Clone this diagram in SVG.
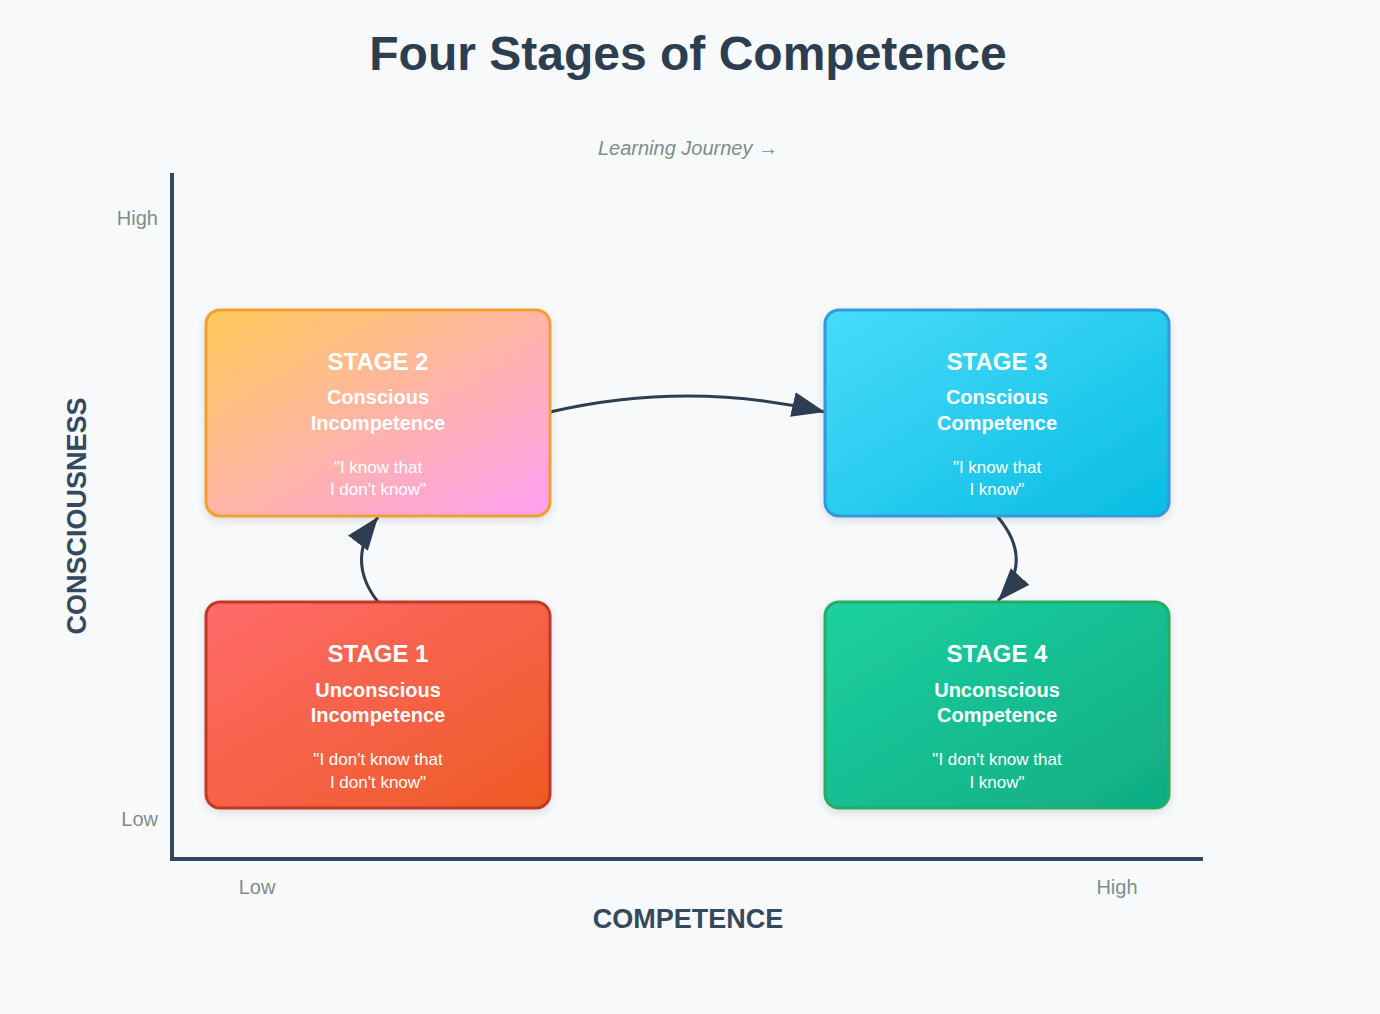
<svg xmlns="http://www.w3.org/2000/svg" width="1380" height="1014" viewBox="0 0 1380 1014">
  <style>
    .title { font-family: "Liberation Sans", Arial, sans-serif; font-weight: bold; font-size: 48px; fill: #2c3e50; text-anchor: middle; }
    .sub { font-family: "Liberation Sans", Arial, sans-serif; font-style: italic; font-size: 20px; fill: #7f8c8d; text-anchor: middle; }
    .tick { font-family: "Liberation Sans", Arial, sans-serif; font-size: 20px; fill: #7f8c8d; }
    .axis-label { font-family: "Liberation Sans", Arial, sans-serif; font-weight: bold; font-size: 27px; fill: #34495e; text-anchor: middle; }
    .stage { font-family: "Liberation Sans", Arial, sans-serif; font-weight: bold; font-size: 24px; fill: #ffffff; text-anchor: middle; }
    .name { font-family: "Liberation Sans", Arial, sans-serif; font-weight: bold; font-size: 20px; fill: #ffffff; text-anchor: middle; }
    .quote { font-family: "Liberation Sans", Arial, sans-serif; font-size: 17px; fill: #ffffff; text-anchor: middle; }
    .axis { stroke: #34495e; stroke-width: 4; fill: none; }
    .conn { stroke: #2c3e50; stroke-width: 3; fill: none; marker-end: url(#arrow); }
    .box { stroke-width: 3; filter: url(#shadow); }
  </style>
  <defs>
    <linearGradient id="g1" x1="0" y1="0" x2="1" y2="1">
      <stop offset="0" stop-color="#ff6b6b"/>
      <stop offset="1" stop-color="#ee5a24"/>
    </linearGradient>
    <linearGradient id="g2" x1="0" y1="0" x2="1" y2="1">
      <stop offset="0" stop-color="#feca57"/>
      <stop offset="1" stop-color="#ff9ff3"/>
    </linearGradient>
    <linearGradient id="g3" x1="0" y1="0" x2="1" y2="1">
      <stop offset="0" stop-color="#48dbfb"/>
      <stop offset="1" stop-color="#0abde3"/>
    </linearGradient>
    <linearGradient id="g4" x1="0" y1="0" x2="1" y2="1">
      <stop offset="0" stop-color="#1dd1a1"/>
      <stop offset="1" stop-color="#10ac84"/>
    </linearGradient>
    <filter id="shadow" x="-10%" y="-10%" width="120%" height="130%">
      <feDropShadow dx="0" dy="3" stdDeviation="4" flood-color="#000000" flood-opacity="0.12"/>
    </filter>
    <marker id="arrow" markerUnits="userSpaceOnUse" viewBox="0 0 33 25" refX="33" refY="12.5" markerWidth="33" markerHeight="25" orient="auto">
      <path d="M0,0 L33,12.5 L0,25 z" fill="#2c3e50"/>
    </marker>
  </defs>

  <rect x="0" y="0" width="1380" height="1014" fill="#f8f9fa"/>

  <text class="title" x="688" y="70">Four Stages of Competence</text>
  <text class="sub" x="688" y="155">Learning Journey →</text>

  <g id="axes">
    <line class="axis" x1="172" y1="173" x2="172" y2="861"/>
    <line class="axis" x1="170" y1="859" x2="1203" y2="859"/>
    <text class="tick" x="158" y="225" text-anchor="end">High</text>
    <text class="tick" x="158" y="826" text-anchor="end">Low</text>
    <text class="tick" x="257" y="894" text-anchor="middle">Low</text>
    <text class="tick" x="1117" y="894" text-anchor="middle">High</text>
    <text class="axis-label" x="688" y="928">COMPETENCE</text>
    <text class="axis-label" transform="translate(86,516) rotate(-90)">CONSCIOUSNESS</text>
  </g>

  <g id="connectors">
    <path class="conn" d="M378,602 Q345,560 378,517"/>
    <path class="conn" d="M550,412 Q688,380 825,412"/>
    <path class="conn" d="M997,516 Q1035,560 998,601"/>
  </g>

  <g id="stage2">
    <rect class="box" x="206" y="310" width="344" height="206" rx="14" fill="url(#g2)" stroke="#f0a030"/>
    <text class="stage" x="378" y="370">STAGE 2</text>
    <text class="name" x="378" y="404">Conscious</text>
    <text class="name" x="378" y="430">Incompetence</text>
    <text class="quote" x="378" y="473">"I know that</text>
    <text class="quote" x="378" y="495">I don't know"</text>
  </g>

  <g id="stage3">
    <rect class="box" x="825" y="310" width="344" height="206" rx="14" fill="url(#g3)" stroke="#3498db"/>
    <text class="stage" x="997" y="370">STAGE 3</text>
    <text class="name" x="997" y="404">Conscious</text>
    <text class="name" x="997" y="430">Competence</text>
    <text class="quote" x="997" y="473">"I know that</text>
    <text class="quote" x="997" y="495">I know"</text>
  </g>

  <g id="stage1">
    <rect class="box" x="206" y="602" width="344" height="206" rx="14" fill="url(#g1)" stroke="#c0392b"/>
    <text class="stage" x="378" y="662">STAGE 1</text>
    <text class="name" x="378" y="697">Unconscious</text>
    <text class="name" x="378" y="722">Incompetence</text>
    <text class="quote" x="378" y="765">"I don't know that</text>
    <text class="quote" x="378" y="788">I don't know"</text>
  </g>

  <g id="stage4">
    <rect class="box" x="825" y="602" width="344" height="206" rx="14" fill="url(#g4)" stroke="#27ae60"/>
    <text class="stage" x="997" y="662">STAGE 4</text>
    <text class="name" x="997" y="697">Unconscious</text>
    <text class="name" x="997" y="722">Competence</text>
    <text class="quote" x="997" y="765">"I don't know that</text>
    <text class="quote" x="997" y="788">I know"</text>
  </g>
</svg>
